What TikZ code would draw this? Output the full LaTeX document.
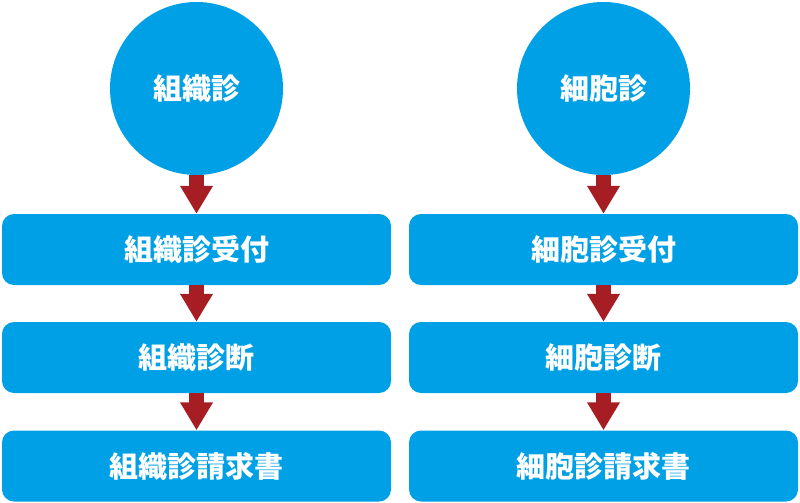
\documentclass[tikz,border=0pt]{standalone}
\usepackage{fontspec}
\newfontfamily\cjk{Noto Sans CJK JP}
\usetikzlibrary{arrows.meta}
\definecolor{boxblue}{RGB}{0,160,230}
\definecolor{arrowred}{RGB}{166,30,35}
\tikzset{
  circ/.style={circle, fill=boxblue, minimum size=173pt, inner sep=0pt, text=white, font=\cjk\bfseries\fontsize{29}{29}\selectfont},
  stage/.style={rectangle, rounded corners=12pt, fill=boxblue, minimum width=389pt, minimum height=71pt, inner sep=0pt, text=white, font=\cjk\bfseries\fontsize{29}{29}\selectfont},
  flow/.style={draw=arrowred, line width=15pt, -{Triangle[width=31pt,length=28pt]}, arrowred},
}
\begin{document}
\begin{tikzpicture}[x=1pt,y=-1pt]
\useasboundingbox (0,0) rectangle (800,503);
\node[circ] (c1) at (196.5,88.5) {組織診};
\node[stage] (a1) at (196.5,249.5) {組織診受付};
\node[stage] (a2) at (196.5,357.5) {組織診断};
\node[stage] (a3) at (196.5,466) {組織診請求書};
\node[circ] (c2) at (603.5,88.5) {細胞診};
\node[stage] (b1) at (603.5,249.5) {細胞診受付};
\node[stage] (b2) at (603.5,357.5) {細胞診断};
\node[stage] (b3) at (603.5,466) {細胞診請求書};
\draw[flow] (c1.south) -- (a1.north);
\draw[flow] (a1.south) -- (a2.north);
\draw[flow] (a2.south) -- (a3.north);
\draw[flow] (c2.south) -- (b1.north);
\draw[flow] (b1.south) -- (b2.north);
\draw[flow] (b2.south) -- (b3.north);
\end{tikzpicture}
\end{document}
